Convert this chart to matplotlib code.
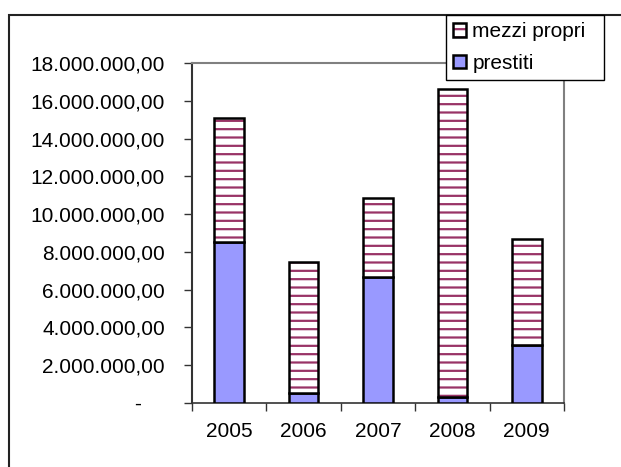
import matplotlib.pyplot as plt
from matplotlib.patches import Patch, Rectangle
from matplotlib.legend_handler import HandlerTuple
from matplotlib.ticker import FuncFormatter, FixedLocator

plt.rcParams['font.family'] = ['Liberation Sans', 'DejaVu Sans']
plt.rcParams['font.size'] = 15
plt.rcParams['hatch.linewidth'] = 1.6

# Data
anni = ['2005', '2006', '2007', '2008', '2009']
prestiti = [8500000, 530000, 6680000, 330000, 3050000]
mezzi_propri = [6600000, 6950000, 4170000, 16270000, 5610000]

col_prestiti = '#9999FF'
col_hatch = '#993366'

fig = plt.figure(figsize=(6.21, 4.67), dpi=100)
ax = fig.add_axes([192 / 621, 1 - 403 / 467, 372 / 621, 340 / 467])

x = list(range(len(anni)))
w = 0.4

# prestiti (bottom)
ax.bar(x, prestiti, w, color=col_prestiti, edgecolor='black', linewidth=1.8, zorder=3)
# mezzi propri: hatched fill, then black outline
ax.bar(x, mezzi_propri, w, bottom=prestiti, color='white', hatch='--',
       edgecolor=col_hatch, linewidth=0, zorder=3)
ax.bar(x, mezzi_propri, w, bottom=prestiti, fill=False,
       edgecolor='black', linewidth=1.8, zorder=4)

ax.set_xlim(-0.5, len(anni) - 0.5)
ax.set_ylim(0, 18000000)
ax.set_yticks(range(0, 18000001, 2000000))


def fmt(v, pos):
    if v == 0:
        return '-    '
    s = f'{int(v):,}'.replace(',', '.')
    return s + ',00'


ax.yaxis.set_major_formatter(FuncFormatter(fmt))
ax.set_xticks(x)
ax.set_xticklabels(anni)
ax.xaxis.set_minor_locator(FixedLocator([i - 0.5 for i in range(len(anni) + 1)]))
ax.tick_params(axis='x', which='major', length=0, pad=14)
ax.tick_params(axis='x', which='minor', length=6, width=1, color='#333333')
ax.tick_params(axis='y', length=6, width=1, color='#333333', pad=13.5)

for s in ['top', 'right']:
    ax.spines[s].set_color('#808080')
    ax.spines[s].set_linewidth(1.5)
ax.spines['left'].set_color('#333333')
ax.spines['left'].set_linewidth(1.5)
ax.spines['bottom'].set_color('#333333')
ax.spines['bottom'].set_linewidth(1.2)

# outer chart border (left and top visible)
fig.add_artist(Rectangle((9 / 621, -0.2), 1.2, 0.2 + 1 - 15 / 467, fill=False,
                         edgecolor='#222222', linewidth=1.5, transform=fig.transFigure,
                         clip_on=False, zorder=0))

h_mezzi = (Patch(facecolor='white', hatch='--', edgecolor=col_hatch, linewidth=0),
           Patch(fill=False, edgecolor='black', linewidth=1.8))
h_prest = Patch(facecolor=col_prestiti, edgecolor='black', linewidth=1.8)
leg = fig.legend([h_mezzi, h_prest], ['mezzi propri  ', 'prestiti'],
                 handler_map={tuple: HandlerTuple(ndivide=1)},
                 loc='upper left', bbox_to_anchor=(446 / 621, 1 - 15 / 467),
                 frameon=True, fancybox=False, framealpha=1, edgecolor='black',
                 fontsize=15, handlelength=0.65, handleheight=0.65,
                 handletextpad=0.28, borderpad=0.33, labelspacing=0.62,
                 borderaxespad=0)
leg.get_frame().set_linewidth(1.0)
leg.set_zorder(10)

fig.savefig('out.png', dpi=100)
